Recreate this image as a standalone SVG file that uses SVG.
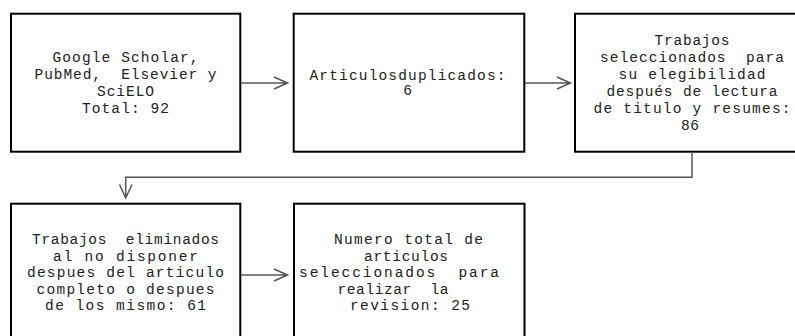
<svg xmlns="http://www.w3.org/2000/svg" width="795" height="336" viewBox="0 0 795 336">
<style>
.box{fill:#fff;stroke:#000;stroke-width:2}
.t{font-family:"Liberation Mono","Courier New",monospace;font-size:14.5px;fill:#222;text-anchor:middle;white-space:pre}
.c{fill:none;stroke:#555;stroke-width:1.5}
</style>
<rect width="795" height="336" fill="#fff"/>
<g id="n1">
<rect class="box" x="11" y="13.7" width="229.3" height="138"/>
<text class="t" x="125.5" y="62" textLength="146" lengthAdjust="spacing">Google Scholar,</text>
<text class="t" x="125.5" y="79" textLength="182" lengthAdjust="spacing">PubMed,  Elsevier y</text>
<text class="t" x="125.5" y="96" textLength="57" lengthAdjust="spacing">SciELO</text>
<text class="t" x="125.5" y="113" textLength="87" lengthAdjust="spacing">Total: 92</text>
</g>
<g id="n2">
<rect class="box" x="293.7" y="13.7" width="230.6" height="138"/>
<text class="t" x="407.5" y="80" textLength="196" lengthAdjust="spacing">Articulosduplicados:</text>
<text class="t" x="407.5" y="95">6</text>
</g>
<g id="n3">
<rect class="box" x="575" y="13.7" width="240" height="138"/>
<text class="t" x="692" y="45" textLength="75" lengthAdjust="spacing">Trabajos</text>
<text class="t" x="692" y="62" textLength="184" lengthAdjust="spacing">seleccionados  para</text>
<text class="t" x="692" y="79" textLength="147" lengthAdjust="spacing">su elegibilidad</text>
<text class="t" x="692" y="96" textLength="171" lengthAdjust="spacing">después de lectura</text>
<text class="t" x="692" y="113" textLength="197" lengthAdjust="spacing">de titulo y resumes:</text>
<text class="t" x="690" y="130" textLength="18" lengthAdjust="spacing">86</text>
</g>
<g id="n4">
<rect class="box" x="11" y="203.7" width="229.3" height="140"/>
<text class="t" x="125.5" y="244" textLength="187" lengthAdjust="spacing">Trabajos  eliminados</text>
<text class="t" x="125.5" y="260.5" textLength="145" lengthAdjust="spacing">al no disponer</text>
<text class="t" x="125.5" y="277" textLength="197" lengthAdjust="spacing">despues del articulo</text>
<text class="t" x="125.5" y="293.5" textLength="178" lengthAdjust="spacing">completo o despues</text>
<text class="t" x="125.5" y="310" textLength="161" lengthAdjust="spacing">de los mismo: 61</text>
</g>
<g id="n5">
<rect class="box" x="294" y="203.7" width="230.5" height="140"/>
<text class="t" x="408.5" y="244" textLength="149" lengthAdjust="spacing">Numero total de</text>
<text class="t" x="406" y="260.5" textLength="84" lengthAdjust="spacing">articulos</text>
<text class="t" x="399" y="277" textLength="200" lengthAdjust="spacing">seleccionados  para</text>
<text class="t" x="393" y="293.5" textLength="111" lengthAdjust="spacing">realizar  la</text>
<text class="t" x="410" y="310" textLength="120" lengthAdjust="spacing">revision: 25</text>
</g>
<g id="connectors">
<path class="c" d="M241 83H287M274 77L287.5 83L274 89"/>
<path class="c" d="M525 83H570M557 77L570.5 83L557 89"/>
<path class="c" d="M692 152V177.3H125.7V198M119.5 184.5L125.7 198L132 184.5"/>
<path class="c" d="M241 275H287M274 269L287.5 275L274 281"/>
</g>
</svg>
